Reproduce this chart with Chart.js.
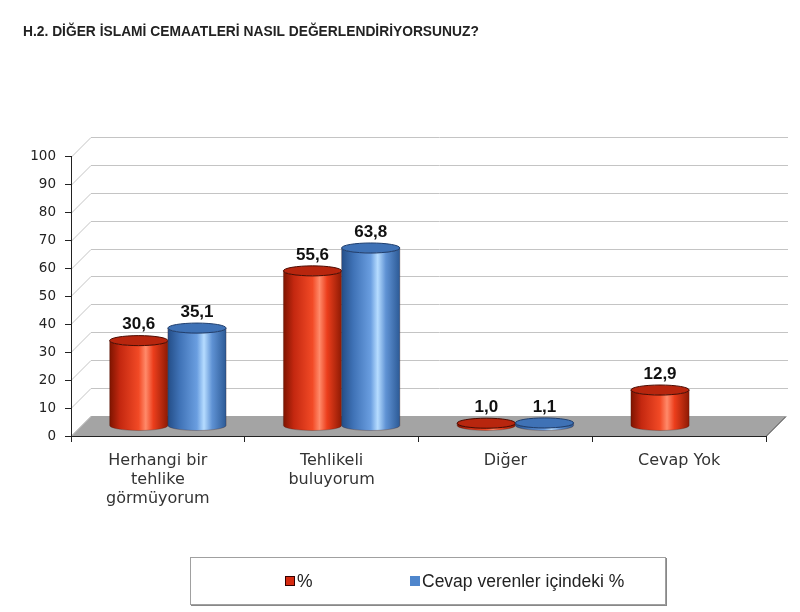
<!DOCTYPE html>
<html>
<head>
<meta charset="utf-8">
<script src="https://cdn.jsdelivr.net/npm/chart.js@4"></script>
<style>
  body { margin: 0; background: #fff; }
  #wrap { position: relative; width: 800px; height: 612px; }
  #legend {
    position: absolute; left: 190px; top: 557px; width: 474px; height: 46px;
    border: 1px solid #a0a0a0; box-shadow: 1px 1px 0 #888;
    font-family: "Liberation Sans", Arial, sans-serif; font-size: 17.5px; color: #222;
  }
  .item { position: absolute; top: 13px; line-height: 21px; white-space: nowrap; }
  .sw { display: inline-block; width: 8px; height: 8px; margin-right: 2px; vertical-align: 1px; }
</style>
</head>
<body>
<div id="wrap">
  <canvas id="chart"></canvas>
  <div id="legend"></div>
</div>
<script>
// Data
const categories = [["Herhangi bir", "tehlike", "görmüyorum"], ["Tehlikeli", "buluyorum"], "Diğer", "Cevap Yok"];
const seriesNames = ["%", "Cevap verenler içindeki %"];
const percentValues = [30.6, 55.6, 1.0, 12.9];
const respondentValues = [35.1, 63.8, 1.1, null];
const yMin = 0, yMax = 100, yStep = 10;

// Colours for the cylinders
const cylinderStyles = [
    {
        swatch: "#d62a10",
        top: "#b8260e",
        edge: "#4a0a00",
        stops: [[0, "#7e1400"], [0.18, "#c42810"], [0.5, "#f24a26"], [0.62, "#ff8a6a"], [0.75, "#ec3e1c"], [1, "#8e1a04"]],
    },
    {
        swatch: "#4f86cc",
        top: "#3f72b6",
        edge: "#1e3e6e",
        stops: [[0, "#244e88"], [0.2, "#3f72b6"], [0.5, "#6a9ee0"], [0.62, "#b6dcff"], [0.76, "#5f92d4"], [1, "#2c5a96"]],
    },
];

const DEPTH = 20; // 3D depth of the plot box, px

Chart.defaults.font.family = "'DejaVu Sans', Verdana, sans-serif";
Chart.defaults.color = "#222";

// Walls, grid and floor drawn behind the axes
const boxPlugin = {
    id: "box3d",
    beforeDraw(chart) {
        const { ctx, chartArea: a } = chart;
        const y = chart.scales.y;
        ctx.save();
        // floor
        ctx.fillStyle = "#a4a4a4";
        ctx.beginPath();
        ctx.moveTo(a.left, a.bottom);
        ctx.lineTo(a.right, a.bottom);
        ctx.lineTo(a.right + DEPTH, a.bottom - DEPTH);
        ctx.lineTo(a.left + DEPTH, a.bottom - DEPTH);
        ctx.closePath();
        ctx.fill();
        // grid lines on side and back wall
        ctx.strokeStyle = "#c4c4c4";
        ctx.lineWidth = 1;
        for (let v = yMin; v <= yMax; v += yStep) {
            const py = Math.round(y.getPixelForValue(v)) + 0.5;
            ctx.beginPath();
            ctx.moveTo(a.left, py);
            ctx.lineTo(a.left + DEPTH, py - DEPTH);
            if (v > yMin) ctx.lineTo(a.right + DEPTH + 2, py - DEPTH);
            ctx.stroke();
        }
        // right edge of floor
        ctx.strokeStyle = "#222";
        ctx.beginPath();
        ctx.moveTo(a.right, a.bottom + 0.5);
        ctx.lineTo(a.right + DEPTH, a.bottom - DEPTH + 0.5);
        ctx.stroke();
        ctx.restore();
    },
};

function drawCylinder(ctx, cx, w, top, base, style) {
    const rx = w / 2, ry = 5;
    const left = cx - rx;
    const grad = ctx.createLinearGradient(left, 0, left + w, 0);
    style.stops.forEach(([o, c]) => grad.addColorStop(o, c));
    ctx.beginPath();
    ctx.moveTo(left, top);
    ctx.lineTo(left, base);
    ctx.ellipse(cx, base, rx, ry, 0, Math.PI, 0, true);
    ctx.lineTo(left + w, top);
    ctx.ellipse(cx, top, rx, ry, 0, 0, Math.PI, false);
    ctx.closePath();
    ctx.fillStyle = grad;
    ctx.fill();
    ctx.strokeStyle = "rgba(60,20,10,0.35)";
    ctx.lineWidth = 0.8;
    ctx.stroke();
    // top cap
    ctx.beginPath();
    ctx.ellipse(cx, top, rx, ry, 0, 0, Math.PI * 2);
    ctx.fillStyle = style.top;
    ctx.fill();
    ctx.strokeStyle = style.edge;
    ctx.lineWidth = 1;
    ctx.stroke();
}

// Cylinders and value labels, placed from the bar elements
const cylinderPlugin = {
    id: "cylinders",
    afterDatasetsDraw(chart) {
        const { ctx } = chart;
        const shift = DEPTH / 2;
        ctx.save();
        chart.data.datasets.forEach((ds, di) => {
            const meta = chart.getDatasetMeta(di);
            meta.data.forEach((bar, i) => {
                const v = ds.data[i];
                if (v === null || v === undefined) return;
                const { x, y, base, width } = bar.getProps(["x", "y", "base", "width"], true);
                const cx = x + shift;
                const top = y - shift;
                drawCylinder(ctx, cx, width, top, base - shift, cylinderStyles[di]);
                ctx.fillStyle = "#111";
                ctx.font = "bold 17px 'Liberation Sans', Arial, sans-serif";
                ctx.textAlign = "center";
                ctx.textBaseline = "middle";
                ctx.fillText(v.toFixed(1).replace(".", ","), cx, top - 16);
            });
        });
        ctx.restore();
    },
};

const chart = new Chart(document.getElementById("chart").getContext("2d"), {
    type: "bar",
    data: {
        labels: categories,
        datasets: [
            { label: seriesNames[0], data: percentValues, backgroundColor: "rgba(0,0,0,0)" },
            { label: seriesNames[1], data: respondentValues, backgroundColor: "rgba(0,0,0,0)" },
        ],
    },
    options: {
        responsive: true,
        maintainAspectRatio: false,
        animation: false,
        categoryPercentage: 0.67,
        barPercentage: 1.0,
        layout: { padding: { left: 23, right: 34, top: 0, bottom: 0 } },
        plugins: {
            legend: { display: false },
            tooltip: { enabled: false },
            title: {
                display: true,
                text: "H.2. DİĞER İSLAMİ CEMAATLERİ NASIL DEĞERLENDİRİYORSUNUZ?",
                align: "start",
                color: "#222",
                font: { family: "'Liberation Sans', Arial, sans-serif", size: 13.8, weight: "bold" },
                padding: { top: 23.7, bottom: 116.7 },
            },
        },
        scales: {
            x: {
                grid: { display: true, drawOnChartArea: false, color: "#222", tickLength: 6 },
                border: { color: "#222" },
                ticks: { font: { size: 16 }, color: "#333", padding: 9 },
                afterFit(scale) { scale.height = 176; },
            },
            y: {
                min: yMin,
                max: yMax,
                ticks: { stepSize: yStep, font: { size: 13.5 }, color: "#222", padding: 9 },
                grid: { display: true, drawOnChartArea: false, color: "#222", tickLength: 6 },
                border: { color: "#222" },
                afterFit(scale) { scale.width = 48; },
            },
        },
    },
    plugins: [boxPlugin, cylinderPlugin],
});

// Legend box
const legendEl = document.getElementById("legend");
const legendLefts = [94, 219];
seriesNames.forEach((name, i) => {
    const item = document.createElement("div");
    item.className = "item";
    item.style.left = legendLefts[i] + "px";
    const sw = document.createElement("span");
    sw.className = "sw";
    sw.style.background = cylinderStyles[i].swatch;
    sw.style.border = i === 0 ? "1px solid #300" : "1px solid " + cylinderStyles[i].swatch;
    item.appendChild(sw);
    item.appendChild(document.createTextNode(name));
    legendEl.appendChild(item);
});
</script>
</body>
</html>
